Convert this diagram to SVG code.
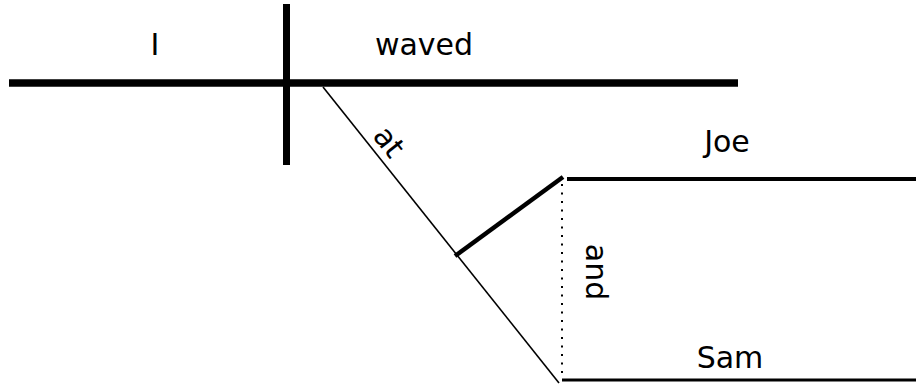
<svg xmlns="http://www.w3.org/2000/svg" width="916" height="385" viewBox="0 0 916 385">
<style>
  .w { font-family: "Comic Sans MS", "DejaVu Sans", sans-serif; font-size: 30px; fill: #000; text-anchor: middle; }
  .ln { stroke: #000; fill: none; stroke-linecap: butt; }
</style>
<rect width="916" height="385" fill="#fff"/>
<g id="connectors">
  <line class="ln" x1="9" y1="83" x2="738" y2="83" stroke-width="7.5"/>
  <line class="ln" x1="286.5" y1="4" x2="286.5" y2="165" stroke-width="7"/>
  <line class="ln" x1="323" y1="87" x2="559" y2="383" stroke-width="1.6"/>
  <line class="ln" x1="455" y1="256" x2="563" y2="177" stroke-width="4.5"/>
  <line class="ln" x1="567" y1="179" x2="916" y2="179" stroke-width="4"/>
  <line class="ln" x1="562" y1="380" x2="916" y2="380" stroke-width="3"/>
  <line class="ln" x1="562" y1="184" x2="562" y2="377" stroke-width="2" stroke-dasharray="2 6.5"/>
</g>
<g id="subject"><text class="w" x="155" y="55">I</text></g>
<g id="verb"><text class="w" x="424" y="55">waved</text></g>
<g id="preposition"><text class="w" transform="translate(381,148) rotate(51.7)" x="0" y="0">at</text></g>
<g id="object-joe"><text class="w" x="727" y="152">Joe</text></g>
<g id="object-sam"><text class="w" x="730" y="368">Sam</text></g>
<g id="conjunction"><text class="w" transform="translate(586,272) rotate(90)" x="0" y="0">and</text></g>
</svg>
